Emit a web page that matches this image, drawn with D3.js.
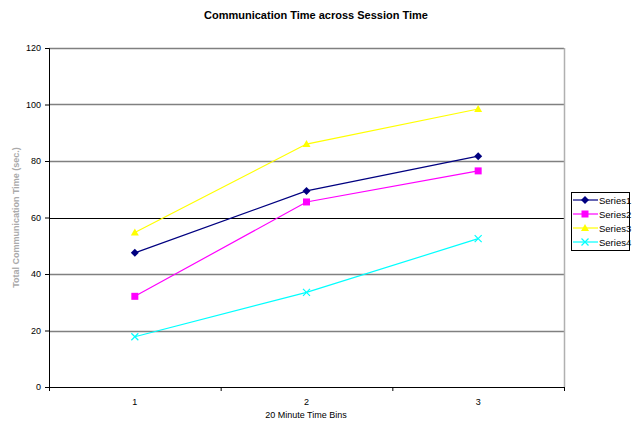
<!DOCTYPE html>
<html><head><meta charset="utf-8">
<script src="https://cdn.jsdelivr.net/npm/d3@7"></script>
<style>body{margin:0;background:#fff}svg{display:block;font-family:"Liberation Sans",Arial,sans-serif}</style>
</head><body><svg id="c" width="632" height="421"></svg>
<script>
const categories = ["1", "2", "3"];
const seriesNames = ["Series1", "Series2", "Series3", "Series4"];
const series1 = [47.5, 69.4, 81.7];
const series2 = [32.1, 65.5, 76.5];
const series3 = [54.7, 86.0, 98.4];
const series4 = [17.8, 33.5, 52.5];
const yTicks = [0, 20, 40, 60, 80, 100, 120];
const colors = ["#000080", "#FF00FF", "#FFFF00", "#00FFFF"];
const symbols = ["diamond", "square", "triangle", "x"];
const allSeries = [series1, series2, series3, series4];

const svg = d3.select("#c");
const L = 49, R = 564, T = 48, B = 387;
const x = d3.scaleBand().domain(categories).range([L, R]);
const y = d3.scaleLinear().domain([0, 120]).range([B, T]);

svg.append("text").attr("x", 316).attr("y", 19).attr("text-anchor", "middle")
  .attr("font-size", 11).attr("font-weight", "bold").text("Communication Time across Session Time");

// gridlines
svg.append("g").selectAll("line").data(yTicks.filter(d => d > 0)).join("line")
  .attr("x1", L).attr("x2", R).attr("y1", d => Math.round(y(d)) + 0.5).attr("y2", d => Math.round(y(d)) + 0.5)
  .attr("stroke", d => d === 60 ? "#000" : "#808080").attr("stroke-width", d => d === 60 ? 1.2 : 1.5);
// right border
svg.append("line").attr("x1", R + 0.5).attr("x2", R + 0.5).attr("y1", T).attr("y2", B)
  .attr("stroke", "#b0b0b0").attr("stroke-width", 1.5);

// axes
const yAxis = d3.axisLeft(y).tickValues(yTicks).tickSize(4).tickPadding(4);
const gy = svg.append("g").attr("transform", `translate(${L},0)`).call(yAxis);
gy.select(".domain").attr("stroke", "#000");
gy.selectAll("text").attr("font-size", 9).attr("fill", "#000").style("font-family", "inherit");

const gx = svg.append("g").attr("transform", `translate(0,${B})`);
gx.append("line").attr("x1", L).attr("x2", R).attr("y1", 0.5).attr("y2", 0.5).attr("stroke", "#000");
const bounds = categories.map(c => x(c)).concat([R]);
gx.selectAll("line.tk").data(bounds).join("line").attr("class", "tk")
  .attr("x1", d => d + 0.5).attr("x2", d => d + 0.5).attr("y1", 0).attr("y2", 4).attr("stroke", "#000");
gx.selectAll("text").data(categories).join("text")
  .attr("x", d => x(d) + x.bandwidth() / 2).attr("y", 18).attr("text-anchor", "middle")
  .attr("font-size", 9).text(d => d);

svg.append("text").attr("x", 306).attr("y", 418).attr("text-anchor", "middle")
  .attr("font-size", 9).text("20 Minute Time Bins");
svg.append("text").attr("transform", `translate(19,${(T + B) / 2}) rotate(-90)`).attr("text-anchor", "middle")
  .attr("font-size", 9).attr("font-weight", "bold").attr("fill", "#aaa").text("Total Communication Time (sec.)");

const cx = c => x(c) + x.bandwidth() / 2;
const line = d3.line().x((d, i) => cx(categories[i])).y(d => y(d));

function drawMarker(g, type, color, px, py) {
  if (type === "diamond") {
    g.append("path").attr("d", `M${px},${py-4}L${px+4},${py}L${px},${py+4}L${px-4},${py}Z`).attr("fill", color);
  } else if (type === "square") {
    g.append("rect").attr("x", px - 3.5).attr("y", py - 3.5).attr("width", 7).attr("height", 7).attr("fill", color);
  } else if (type === "triangle") {
    g.append("path").attr("d", `M${px},${py-4}L${px+4},${py+3}L${px-4},${py+3}Z`).attr("fill", color);
  } else {
    g.append("path").attr("d", `M${px-3.5},${py-3.5}L${px+3.5},${py+3.5}M${px+3.5},${py-3.5}L${px-3.5},${py+3.5}`)
      .attr("stroke", color).attr("stroke-width", 1.2);
  }
}

allSeries.forEach((s, k) => {
  const g = svg.append("g");
  g.append("path").datum(s).attr("d", line).attr("fill", "none").attr("stroke", colors[k]).attr("stroke-width", 1.2);
  s.forEach((v, i) => drawMarker(g, symbols[k], colors[k], cx(categories[i]), y(v)));
});

// legend
const lg = svg.append("g");
lg.append("rect").attr("x", 571.5).attr("y", 192.5).attr("width", 58).attr("height", 58)
  .attr("fill", "#fff").attr("stroke", "#000");
seriesNames.forEach((n, k) => {
  const ly = 200 + k * 14;
  lg.append("line").attr("x1", 573).attr("x2", 598).attr("y1", ly).attr("y2", ly).attr("stroke", colors[k]).attr("stroke-width", 1.2);
  drawMarker(lg, symbols[k], colors[k], 585, ly);
  lg.append("text").attr("x", 599).attr("y", ly + 3.5).attr("font-size", 9.5).text(n);
});
</script></body></html>
